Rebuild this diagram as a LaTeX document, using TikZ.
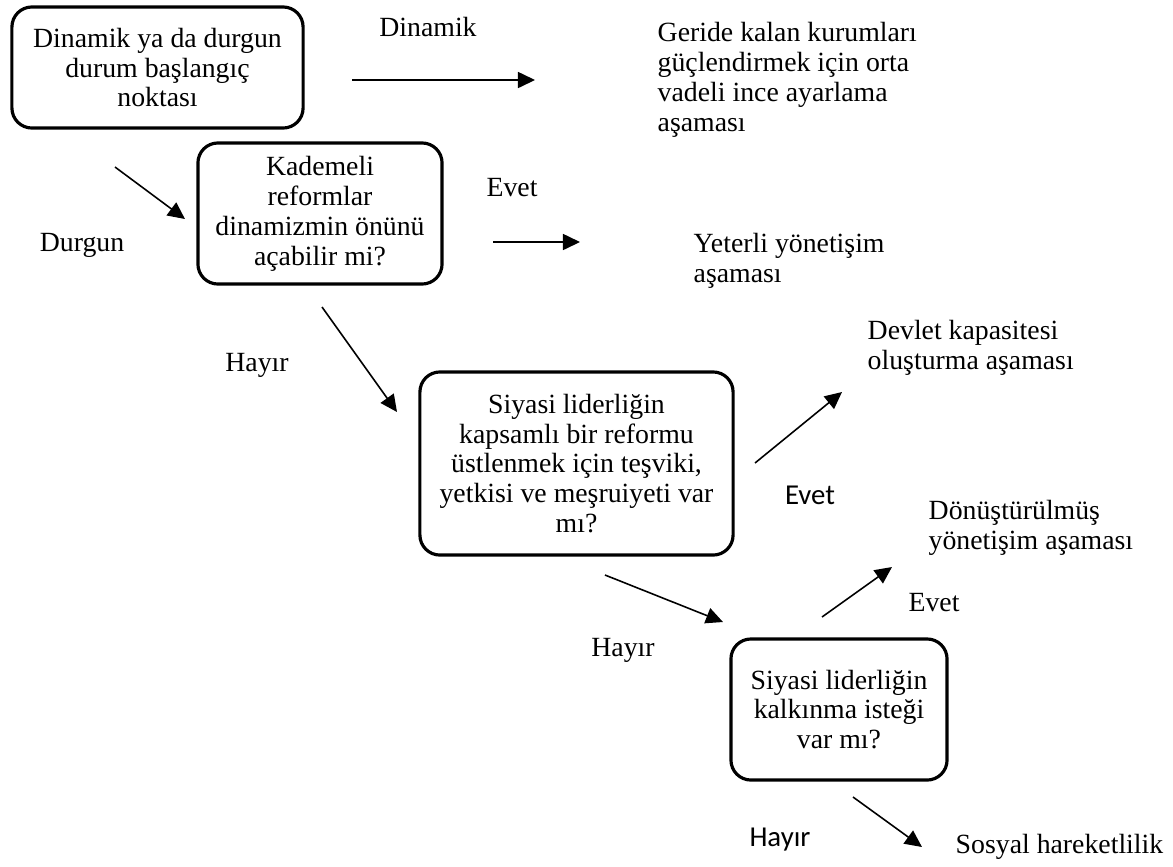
\documentclass[tikz,border=0pt]{standalone}
\usepackage{fontspec}
\setmainfont{Liberation Serif}
\newfontfamily\calfont{Carlito}
\usetikzlibrary{arrows.meta}
\tikzset{
  karar/.style={draw, line width=0.9pt, rounded corners=0.2cm, align=center, inner sep=0pt},
  etiket/.style={inner sep=0pt, align=left},
  ok/.style={-{Triangle[length=0.17cm,width=0.16cm]}, line width=0.45pt}
}
\begin{document}
\begin{tikzpicture}[x=0.01cm, y=-0.01cm, font=\fontsize{7.9}{8.5}\selectfont]
      \useasboundingbox (0,0) rectangle (1173,866);
      % karar kutulari
      \node[karar, minimum width=2.91cm, minimum height=1.21cm] (baslangic) at (157.5,67.5)
        {Dinamik ya da durgun\\durum başlangıç\\noktası};
      \node[karar, minimum width=2.44cm, minimum height=1.41cm] (kademeli) at (320,213.5)
        {Kademeli\\reformlar\\dinamizmin önünü\\açabilir mi?};
      \node[karar, minimum width=3.13cm, minimum height=1.83cm] (siyasi) at (576.5,463.5)
        {Siyasi liderliğin\\kapsamlı bir reformu\\üstlenmek için teşviki,\\yetkisi ve meşruiyeti var\\mı?};
      \node[karar, minimum width=2.16cm, minimum height=1.41cm] (kalkinma) at (839,709.5)
        {Siyasi liderliğin\\kalkınma isteği\\var mı?};
      % sonuclar
      \node[etiket, anchor=west] (ince) at (657,80)
        {Geride kalan kurumları\\güçlendirmek için orta\\vadeli ince ayarlama\\aşaması};
      \node[etiket, anchor=west] (yeterli) at (693,261) {Yeterli yönetişim\\aşaması};
      \node[etiket, anchor=west] (devlet) at (867,348) {Devlet kapasitesi\\oluşturma aşaması};
      \node[etiket, anchor=west] (donusum) at (928,528) {Dönüştürülmüş\\yönetişim aşaması};
      \node[etiket, anchor=west] (sosyal) at (955,847) {Sosyal hareketlilik};
      % dal etiketleri
      \node[etiket] (dinamik) at (428,27) {Dinamik};
      \node[etiket] (durgun) at (82,245) {Durgun};
      \node[etiket] (evet1) at (512,188) {Evet};
      \node[etiket] (hayir1) at (257,365) {Hayır};
      \node[etiket, font=\calfont\fontsize{8.2}{8.5}\selectfont] (evet2) at (810,495) {Evet};
      \node[etiket] (evet3) at (934,603) {Evet};
      \node[etiket] (hayir2) at (623,650) {Hayır};
      \node[etiket, font=\calfont\fontsize{8.2}{8.5}\selectfont] (hayir3) at (780,840) {Hayır};
      % ok uclari
      \coordinate (dinamik-a) at (352,80);
      \coordinate (dinamik-b) at (535,80);
      \coordinate (durgun-a) at (115,167);
      \coordinate (durgun-b) at (185,219);
      \coordinate (evet1-a) at (493,242);
      \coordinate (evet1-b) at (580,242);
      \coordinate (hayir1-a) at (322,307);
      \coordinate (hayir1-b) at (397,412);
      \coordinate (evet2-a) at (755,463);
      \coordinate (evet2-b) at (842,392);
      \coordinate (hayir2-a) at (605,575);
      \coordinate (hayir2-b) at (723,622);
      \coordinate (evet3-a) at (822,617);
      \coordinate (evet3-b) at (892,567);
      \coordinate (hayir3-a) at (853,797);
      \coordinate (hayir3-b) at (922,847);
      \begin{scope}[ok]
        \draw (dinamik-a) to (dinamik-b);
        \draw (durgun-a) to (durgun-b);
        \draw (evet1-a) to (evet1-b);
        \draw (hayir1-a) to (hayir1-b);
        \draw (evet2-a) to (evet2-b);
        \draw (hayir2-a) to (hayir2-b);
        \draw (evet3-a) to (evet3-b);
        \draw (hayir3-a) to (hayir3-b);
      \end{scope}
    \end{tikzpicture}
\end{document}
